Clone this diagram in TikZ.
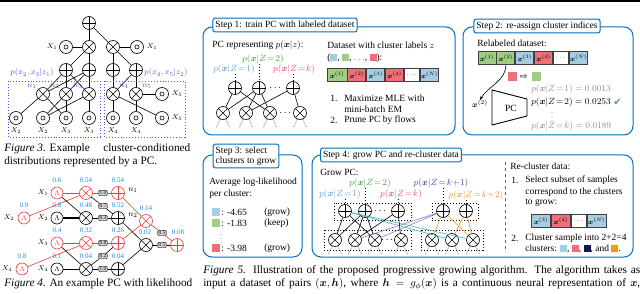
\documentclass[tikz,border=0pt]{standalone}
\usepackage{amsmath,amssymb}
\usepackage{fontspec}
\setmainfont{Liberation Serif}
\newfontfamily\symfont{DejaVu Sans}
\usepackage{xcolor}
\usetikzlibrary{positioning,arrows.meta}

\definecolor{stepblue}{RGB}{0,112,192}
\definecolor{cblue}{RGB}{166,206,227}
\definecolor{cgreen}{RGB}{160,205,130}
\definecolor{cred}{RGB}{240,110,120}
\definecolor{cnavy}{RGB}{15,25,80}
\definecolor{corange}{RGB}{247,148,30}
\definecolor{zblue}{RGB}{90,160,220}
\definecolor{zgreen}{RGB}{70,160,70}
\definecolor{zred}{RGB}{235,80,90}
\definecolor{zpurple}{RGB}{90,60,160}
\definecolor{zorange}{RGB}{245,150,40}
\definecolor{likblue}{RGB}{30,140,220}
\definecolor{pcred}{RGB}{240,60,60}
\definecolor{figblue}{RGB}{70,80,240}
\definecolor{figpurple}{RGB}{120,80,170}
\definecolor{lteal}{RGB}{60,180,190}
\definecolor{lpurple}{RGB}{140,120,200}
\definecolor{okgreen}{RGB}{60,180,60}

\newcommand{\csq}[1]{\textcolor{#1}{\rule[-0.5pt]{7pt}{7pt}}}
\newcommand{\bx}{\boldsymbol{x}}
\newcommand{\stepfont}{\fontsize{9.5}{11}\selectfont}
\newcommand{\capfont}{\fontsize{11.3}{13}\selectfont}

\tikzset{
  pcnode/.style={circle, draw, minimum size=13pt, inner sep=0pt, fill=white},
  sumnode/.style={pcnode, path picture={\draw (path picture bounding box.north) -- (path picture bounding box.south) (path picture bounding box.west) -- (path picture bounding box.east);}},
  prodnode/.style={pcnode, path picture={\draw (path picture bounding box.north west) -- (path picture bounding box.south east) (path picture bounding box.north east) -- (path picture bounding box.south west);}},
  leafnode/.style={pcnode, path picture={\draw (path picture bounding box.center) circle (2pt);}},
  lamnode/.style={pcnode, minimum size=12pt, font=\scriptsize},
  hot/.style={color=pcred, fill=white},
  wtbox/.style={draw=black!70, fill=black!15, rounded corners=1pt, inner sep=0.8pt, font=\fontsize{5.5}{6}\selectfont},
  numlab/.style={text=likblue, font=\scriptsize, inner sep=0pt},
  varlab/.style={font=\scriptsize, inner sep=0pt},
  stepbox/.style={draw=stepblue, line width=1pt, rounded corners=9pt},
  steptitle/.style={draw=stepblue, line width=1pt, fill=white, rounded corners=2pt, inner sep=2.5pt, font=\stepfont, align=left},
  txt/.style={anchor=west, inner sep=0pt, font=\stepfont},
  capline/.style={anchor=west, inner sep=0pt, font=\capfont},
  cell/.style={draw=black!75, line width=0.9pt, minimum height=13pt, minimum width=18pt, inner sep=0pt, font=\scriptsize},
  sq/.style={minimum size=8pt, inner sep=0pt},
  grpbox/.style={draw, dotted, line width=0.9pt},
  legs/.style={line width=0.4pt, dash pattern=on 1.2pt off 1.2pt},
  zlab/.style={font=\stepfont, inner sep=0.5pt},
  guide/.style={dotted, line width=1pt},
  vdot/.style={inner sep=0pt, font=\fontsize{6}{6}\selectfont},
}

\begin{document}
\begin{tikzpicture}[x=1pt, y=-1pt, line width=0.6pt]
\useasboundingbox (0,0) rectangle (640,294);

% page rule
\coordinate (rl) at (0,1);
\coordinate (rr) at (640,1);
\draw[line width=1.5pt] (rl) -- (rr);

% ---------------- Figure 3 ----------------
\node[sumnode] (r3) at (89,23) {};
\node[prodnode] (m1) at (89,47) {};
\node[prodnode] (m2) at (113,47) {};
\node[leafnode] (x1a) at (66,47) {};
\node[leafnode] (x1b) at (137,47) {};
\node[varlab] (lx1a) at (52,47) {$X_1$};
\node[varlab] (lx1b) at (152,47) {$X_1$};
\node[sumnode] (s1) at (66,70) {};
\node[sumnode] (s2) at (89,70) {};
\node[sumnode] (s3) at (113,70) {};
\node[sumnode] (s4) at (136,70) {};
\node[prodnode] (n1) at (43,94) {};
\node[prodnode] (n2) at (66,94) {};
\node[prodnode] (n3) at (89,94) {};
\node[prodnode] (n4) at (113,94) {};
\node[prodnode] (n5) at (136,94) {};
\node[leafnode] (x5a) at (162,94) {};
\node[leafnode] (x2a) at (16,118) {};
\node[leafnode] (x2b) at (43,118) {};
\node[leafnode] (x3a) at (66,118) {};
\node[leafnode] (x3b) at (89,118) {};
\node[leafnode] (x4a) at (113,118) {};
\node[leafnode] (x4b) at (136,118) {};
\node[leafnode] (x5b) at (162,118) {};

% edges
\draw (r3) -- (m1);
\draw (r3) -- (m2);
\draw (x1a) -- (m1);
\draw (m2) -- (x1b);
\draw (m1) -- (s1);
\draw (m1) -- (s2);
\draw (m2) -- (s3);
\draw (m2) -- (s4);
\draw (s1) -- (n1);
\draw (s1) -- (n2);
\draw (s1) -- (n3);
\draw (s2) -- (n1);
\draw (s2) -- (n2);
\draw (s2) -- (n3);
\draw (s3) -- (n4);
\draw (s4) -- (n5);
\draw (s4) -- (n4);
\draw (n1) -- (x2a);
\draw (n1) -- (x3a);
\draw (n2) -- (x2b);
\draw (n2) -- (x3a);
\draw (n3) -- (x2b);
\draw (n3) -- (x3b);
\draw (n4) -- (x4a);
\draw (n4) -- (x5b);
\draw (n5) -- (x4b);
\draw (n5) -- (x5a);

% labels
\node[varlab] (lx2a) at (16,131) {$X_2$};
\node[varlab] (lx2b) at (43,131) {$X_2$};
\node[varlab] (lx3a) at (66,131) {$X_3$};
\node[varlab] (lx3b) at (89,131) {$X_3$};
\node[varlab] (lx4a) at (113,131) {$X_4$};
\node[varlab] (lx4b) at (136,131) {$X_4$};
\node[varlab] (lx5a) at (177,94) {$X_5$};
\node[varlab] (lx5b) at (177,118) {$X_5$};
\node[text=figblue, font=\footnotesize, inner sep=0pt] (ln1) at (32,86) {$n_1$};
\node[text=figblue, font=\footnotesize, inner sep=0pt] (ln2) at (55,86) {$n_2$};
\node[text=figblue, font=\footnotesize, inner sep=0pt] (ln3) at (78,86) {$n_3$};
\node[text=figpurple, font=\footnotesize, inner sep=0pt] (ln4) at (124,86) {$n_4$};
\node[text=figpurple, font=\footnotesize, inner sep=0pt] (ln5) at (147,86) {$n_5$};
\draw[grpbox, figblue] (8,81) rectangle (100,137);
\draw[grpbox, figpurple] (104,81) rectangle (185,137);
\node[text=figblue, font=\footnotesize, inner sep=0pt] (pz1) at (32,73) {$p(x_2,x_3|z_1)$};
\node[text=figpurple, font=\footnotesize, inner sep=0pt] (pz2) at (166,73) {$p(x_4,x_5|z_2)$};

\node[capline] (cap3a) at (4,149) {\makebox[186pt][l]{\textit{Figure 3.} Example\hfill cluster-conditioned}};
\node[capline] (cap3b) at (4,162) {distributions represented by a PC.};

% ---------------- Figure 4 ----------------
\node[lamnode, hot] (y1r) at (57,193) {$\Lambda$};
\node[lamnode, hot] (y2r) at (24,218) {$\Lambda$};
\node[lamnode] (y2b) at (57,218) {$\Lambda$};
\node[lamnode, hot] (y3r) at (57,243) {$\Lambda$};
\node[lamnode, hot] (y4r) at (22,269) {$\Lambda$};
\node[lamnode] (y4b) at (57,269) {$\Lambda$};
\node[prodnode, hot] (t1) at (86,193) {};
\node[prodnode] (t2) at (86,218) {};
\node[prodnode, hot] (t3) at (86,243) {};
\node[prodnode] (t4) at (86,269) {};
\node[wtbox] (w1) at (103,193) {1.0};
\node[wtbox] (w2) at (103,206) {0.7};
\node[wtbox] (w3) at (103,218) {0.3};
\node[wtbox] (w4) at (103,243) {0.8};
\node[wtbox] (w5) at (103,256) {0.2};
\node[wtbox] (w6) at (103,269) {1.0};
\node[sumnode, hot] (a1) at (118,193) {};
\node[sumnode] (a2) at (118,218) {};
\node[sumnode, hot] (a3) at (118,243) {};
\node[sumnode] (a4) at (118,269) {};
\node[prodnode, hot] (t5) at (146,221) {};
\node[prodnode] (t6) at (146,245) {};
\node[wtbox] (w7) at (162,233) {0.5};
\node[wtbox] (w8) at (162,245) {0.5};
\node[sumnode, hot] (fr) at (177,245) {};

% edges
\draw[pcred] (y1r) -- (t1);
\draw[pcred] (y2r) -- (t1);
\draw[pcred] (t1) -- (w1) -- (a1);
\draw[pcred] (a1) -- (t5);
\draw[pcred] (a3) -- (t5);
\draw[pcred] (t5) -- (w7) -- (fr);
\draw[pcred] (y3r) -- (t3);
\draw[pcred] (y4r) -- (t3);
\draw[pcred] (t3) -- (w4) -- (a3);
\draw (y1r) -- (t2);
\draw[line width=1.1pt] (y2b) -- (t2);
\draw (t1) -- (w2) -- (a2);
\draw (t2) -- (w3) -- (a2);
\draw (a2) -- (t6);
\draw (a4) -- (t6);
\draw (t6) -- (w8) -- (fr);
\draw (y3r) -- (t4);
\draw (y4b) -- (t4);
\draw (t4) -- (w5) -- (a3);
\draw (t4) -- (w6) -- (a4);

% labels
\node[varlab] (ly1) at (43,193) {$X_1$};
\node[varlab] (ly2r) at (9,218) {$X_2$};
\node[varlab] (ly2b) at (43,218) {$X_2$};
\node[varlab] (ly3) at (43,243) {$X_3$};
\node[varlab] (ly4r) at (7,269) {$X_4$};
\node[varlab] (ly4b) at (43,269) {$X_4$};
\node[numlab] (v1) at (57,180) {0.6};
\node[numlab] (v2) at (24,205) {0.9};
\node[numlab] (v3) at (57,205) {0.8};
\node[numlab] (v4) at (57,230) {0.4};
\node[numlab] (v5) at (22,256) {0.8};
\node[numlab] (v6) at (57,256) {0.1};
\node[numlab] (v7) at (86,180) {0.54};
\node[numlab] (v8) at (86,205) {0.48};
\node[numlab] (v9) at (86,230) {0.32};
\node[numlab] (v10) at (86,256) {0.04};
\node[numlab] (v11) at (118,180) {0.54};
\node[numlab] (v12) at (118,205) {0.52};
\node[numlab] (v13) at (118,230) {0.26};
\node[numlab] (v14) at (118,256) {0.04};
\node[numlab] (v15) at (146,208) {0.14};
\node[numlab] (v16) at (145,232) {0.02};
\node[numlab] (v17) at (178,232) {0.08};
\node[font=\footnotesize, inner sep=0pt] (la1) at (133,190) {$n_1$};
\node[font=\footnotesize, inner sep=0pt] (la2) at (133,215) {$n_2$};

\node[capline] (cap4) at (4,284) {\makebox[188pt][s]{\textit{Figure 4.} An example PC with likelihood}};

% ---------------- Step 1 ----------------
\draw[stepbox] (203,27) rectangle (455,135);
\node[steptitle] (st1) at (285,25) {Step 1: train PC with labeled dataset};
\node[txt] (pcrep) at (212,45) {PC representing $p(\bx|z)$:};
\node[zlab, text=zgreen] (k2) at (263,59) {$p(\bx|Z\!=\!2)$};
\node[zlab, text=zblue] (k1) at (234,69) {$p(\bx|Z\!=\!1)$};
\node[zlab, text=zred] (kk) at (294,69) {$p(\bx|Z\!=\!k)$};
\node[sumnode] (e1) at (235,88) {};
\node[sumnode] (e2) at (259,88) {};
\node[sumnode] (e3) at (293,88) {};
\node[inner sep=0pt] (edots) at (276,88) {$\cdots$};
\node[prodnode] (f1) at (223,113) {};
\node[prodnode] (f2) at (246,113) {};
\node[prodnode] (f3) at (270,113) {};
\node[prodnode] (f4) at (300,113) {};
\node[inner sep=0pt] (fdots) at (286,113) {$\cdots$};
\draw[guide] (e1 |- k1.south) -- (e1);
\draw[guide] (e2 |- k2.south) -- (e2);
\draw[guide] (e3 |- kk.south) -- (e3);
\draw (e1) -- (f1);
\draw (e1) -- (f3);
\draw (e2) -- (f1);
\draw (e2) -- (f2);
\draw (e2) -- (f3);
\draw (e3) -- (f2);
\draw (e3) -- (f4);
\foreach \p in {f1,f2,f3,f4} {
  \draw[legs] (\p.-115) -- ++(-4,9);
  \draw[legs] (\p.-65) -- ++(4,9);
}

\node[txt] (dsl) at (327,45) {Dataset with cluster labels $z$};
\node[txt] (dsc) at (327,58) {(\csq{cblue}, \csq{cgreen}, $\ldots$, \csq{cred}):};
\node[cell, fill=cgreen, minimum width=20pt] (d1) at (337,75) {$\bx^{(1)}$};
\node[cell, fill=cred, right=0pt of d1] (d2) {$\bx^{(2)}$};
\node[cell, fill=cblue, right=0pt of d2] (d3) {$\bx^{(3)}$};
\node[cell, fill=cred, right=0pt of d3] (d4) {$\bx^{(4)}$};
\node[cell, fill=white, minimum width=15pt, right=0pt of d4] (d5) {$\cdots$};
\node[cell, fill=cblue, right=0pt of d5] (d6) {$\bx^{(N)}$};
\node[txt] (i1) at (330,98) {1.};
\node[txt] (i1a) at (344,98) {Maximize MLE with};
\node[txt] (i1b) at (344,109) {mini-batch EM};
\node[txt] (i2) at (330,120) {2.};
\node[txt] (i2a) at (344,120) {Prune PC by flows};

% ---------------- Step 2 ----------------
\draw[stepbox] (463,27) rectangle (633,135);
\node[steptitle] (st2) at (537,26) {Step 2: re-assign cluster indices};
\node[txt] (rel) at (477,43) {Relabeled dataset:};
\node[cell, fill=cgreen] (b1) at (487,58) {$\bx^{(1)}$};
\node[cell, fill=cgreen, right=0pt of b1] (b2) {$\bx^{(2)}$};
\node[cell, fill=cblue, right=0pt of b2] (b3) {$\bx^{(3)}$};
\node[cell, fill=cred, right=0pt of b3] (b4) {$\bx^{(4)}$};
\node[cell, fill=white, minimum width=15pt, right=0pt of b4] (b5) {$\cdots$};
\node[cell, fill=cblue, right=0pt of b5] (b6) {$\bx^{(N)}$};
\node[sq, fill=cred, minimum size=9pt] (rsq) at (512,77) {};
\node[inner sep=0pt] (swap) at (524,77) {\symfont\small ⇨};
\node[sq, fill=cgreen, minimum size=9pt] (gsq) at (536,77) {};
\node[varlab, font=\footnotesize] (xtwo) at (480,104) {$\bx^{(2)}$};
\draw[-{Stealth[length=4pt]}] (b2.south) .. controls +(0,16) and +(8,-14) .. (xtwo.north);
\coordinate (tz1) at (492,90);
\coordinate (tz2) at (527,99);
\coordinate (tz3) at (527,116);
\coordinate (tz4) at (492,125);
\draw[line width=0.9pt] (tz1) -- (tz2) -- (tz3) -- (tz4) -- cycle;
\node[font=\stepfont, inner sep=0pt] (pcbox) at (511,108) {PC};
\node[txt, text=black!45] (pr1) at (531,89) {$p(\bx|Z\!=\!1) = 0.0013$};
\node[txt] (pr2) at (531,102) {$p(\bx|Z\!=\!2) = 0.0253$};
\node[inner sep=0pt, text=okgreen, right=2pt of pr2] (chk) {\symfont ✔};
\node[vdot] (prd) at (552,114) {$\vdots$};
\node[txt, text=black!45] (prk) at (531,126) {$p(\bx|Z\!=\!k) = 0.0189$};

% ---------------- Step 3 ----------------
\draw[stepbox] (203,155) rectangle (302,257);
\node[steptitle, font=\stepfont\linespread{0.9}\selectfont] (st3) at (246,156) {Step 3: select\\clusters to grow};
\node[txt] (avg1) at (209,182) {Average log-likelihood};
\node[txt] (avg2) at (209,194) {per cluster:};
\node[sq, fill=cblue] (q1) at (216,212) {};
\node[txt] (q1t) at (221,212) {: -4.65};
\node[txt] (q1g) at (264,212) {(grow)};
\node[sq, fill=cgreen] (q2) at (216,223) {};
\node[txt] (q2t) at (221,223) {: -1.83};
\node[txt] (q2g) at (264,223) {(keep)};
\node[vdot] (qd) at (221,236) {$\vdots$};
\node[sq, fill=cred] (q3) at (216,248) {};
\node[txt] (q3t) at (221,248) {: -3.98};
\node[txt] (q3g) at (264,248) {(grow)};

% ---------------- Step 4 ----------------
\draw[stepbox] (312,155) rectangle (633,257);
\node[steptitle] (st4) at (391,155) {Step 4: grow PC and re-cluster data};
\node[txt] (grow) at (320,172) {Grow PC:};
\node[zlab, text=zgreen] (h2l) at (370,183) {$p(\bx|Z\!=\!2)$};
\node[zlab, text=zblue] (h1l) at (340,194) {$p(\bx|Z\!=\!1)$};
\node[zlab, text=zred] (hkl) at (401,194) {$p(\bx|Z\!=\!k)$};
\node[zlab, text=zpurple] (hk1l) at (441,183) {$p(\bx|Z\!=\!k\!+\!1)$};
\node[zlab, text=zorange] (hk2l) at (476,195) {$p(\bx|Z\!=\!k\!+\!2)$};
\draw[grpbox] (334,203) rectangle (411,220);
\draw[grpbox] (432,203) rectangle (478,220);
\draw[grpbox] (324,230) rectangle (411,250);
\draw[grpbox] (421,230) rectangle (483,250);
\node[sumnode] (g1) at (345,211) {};
\node[sumnode] (g2) at (365,211) {};
\node[sumnode] (g3) at (398,211) {};
\node[inner sep=0pt] (gdots) at (381,211) {$\cdots$};
\node[sumnode] (h1) at (443,211) {};
\node[sumnode] (h2) at (466,211) {};
\node[prodnode] (u1) at (335,240) {};
\node[prodnode] (u2) at (355,240) {};
\node[prodnode] (u3) at (375,240) {};
\node[prodnode] (u4) at (401,240) {};
\node[inner sep=0pt] (udots) at (388,240) {$\cdots$};
\node[prodnode] (v1n) at (432,240) {};
\node[prodnode] (v2n) at (452,240) {};
\node[prodnode] (v3n) at (473,240) {};
\draw[guide] (g1 |- h1l.south) -- (g1);
\draw[guide] (g2 |- h2l.south) -- (g2);
\draw[guide] (g3 |- hkl.south) -- (g3);
\draw[guide] (h1 |- hk1l.south) -- (h1);
\draw[guide] (h2 |- hk2l.south) -- (h2);
\draw[lteal] (g1) -- (v2n);
\draw[lteal] (g1) -- (v3n);
\draw[lpurple] (h1) -- (u2);
\draw[lpurple] (h1) -- (u3);
\draw (g1) -- (u1);
\draw (g1) -- (u3);
\draw (g2) -- (u1);
\draw (g2) -- (u2);
\draw (g2) -- (u3);
\draw (g3) -- (u2);
\draw (g3) -- (u4);
\draw[corange] (h1) -- (v1n);
\draw[corange] (h1) -- (v3n);
\draw[corange] (h2) -- (v2n);
\draw[corange] (h2) -- (v3n);
\foreach \p in {u1,u2,u3,u4,v1n,v2n,v3n} {
  \draw[legs] (\p.-115) -- ++(-4,9);
  \draw[legs] (\p.-65) -- ++(4,9);
}

% re-cluster data
\coordinate (sep1) at (505,162);
\coordinate (sep2) at (505,252);
\draw[dashed, line width=0.8pt, black!60] (sep1) -- (sep2);
\node[txt] (rc) at (510,166) {Re-cluster data:};
\node[txt] (j1) at (511,180) {1.};
\node[txt] (j1a) at (525,180) {Select subset of samples};
\node[txt] (j1b) at (525,192) {correspond to the clusters};
\node[txt] (j1c) at (525,203) {to grow:};
\node[cell, fill=cblue, minimum width=19pt] (c1) at (541,221) {$\bx^{(3)}$};
\node[cell, fill=cred, minimum width=19pt, right=0pt of c1] (c2) {$\bx^{(4)}$};
\node[cell, fill=white, minimum width=15pt, right=0pt of c2] (c3) {$\cdots$};
\node[cell, fill=cblue, minimum width=19pt, right=0pt of c3] (c4) {$\bx^{(N)}$};
\node[txt] (j2) at (511,238) {2.};
\node[txt] (j2a) at (525,238) {Cluster sample into 2+2=4};
\node[txt] (j2b) at (525,249) {clusters: \csq{cblue}, \csq{cred}, \csq{cnavy}, and \csq{corange}.};

% ---------------- Figure 5 caption ----------------
\node[capline] (cap5a) at (203,271) {\makebox[437pt][s]{\textit{Figure 5.} Illustration of the proposed progressive growing algorithm. The algorithm takes as}};
\node[capline] (cap5b) at (203,284) {\makebox[437pt][s]{input a dataset of pairs $(\bx,\boldsymbol{h})$, where $\boldsymbol{h}=g_{\phi}(\bx)$ is a continuous neural representation of $\bx$,}};
\end{tikzpicture}
\end{document}
